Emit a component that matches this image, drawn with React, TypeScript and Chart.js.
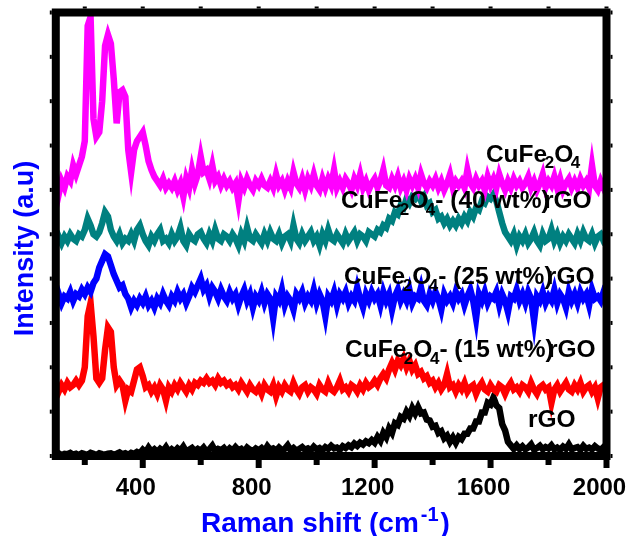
import { useEffect, useRef } from 'react';
import { Chart, registerables } from 'chart.js';

Chart.register(...registerables);

// Raman shift grid (cm-1): 100 ... 2000, sampled every 10 cm-1
const SHIFT_START = 100;
const SHIFT_STEP = 10;

// Stacked Raman intensities (a.u., vertical offsets included), one value per grid point
const CUFE2O4 = [
  61.5, 59, 62, 60.5, 63, 62, 65.5, 63.5, 65.5, 67.5,
  71, 97, 99, 76, 72, 73, 80, 92.5, 95, 93,
  85, 75, 82, 82.5, 81, 69, 64, 69, 71, 72,
  73, 70, 66.5, 64.5, 63, 62, 61, 62.5, 60.5, 61.5,
  60.5, 62, 60, 61.5, 58.5, 62.5, 60.5, 64.5, 61.5, 63.5,
  67.5, 64, 64.5, 62.5, 65.5, 62, 63, 61, 62.5, 61,
  62, 60.5, 61.5, 57.5, 62, 60.5, 62.5, 61, 60, 62,
  61, 62.5, 61, 60.5, 62, 60.5, 63.5, 61, 62, 60,
  62, 60.5, 64, 61.5, 60.5, 62.5, 60, 62.5, 61, 63.5,
  61, 60, 62.5, 60.5, 62.5, 61, 64.5, 60.5, 62, 60.5,
  62.5, 61.5, 60, 62.5, 61, 63.5, 60.5, 62, 60, 61.5,
  62.5, 60.5, 62, 64.5, 61, 60.5, 62.5, 61, 63, 60.5,
  62, 60, 62.5, 61, 62.5, 60.5, 63.5, 61.5, 60.5, 62,
  61, 62.5, 60.5, 62, 60, 61.5, 63.5, 60.5, 62, 61,
  62, 60.5, 64.5, 61.5, 60.5, 62.5, 61, 62, 60, 63,
  61, 62.5, 60.5, 63.5, 61.5, 60, 62, 60.5, 62.5, 61,
  62, 60.5, 61.5, 63, 60.5, 62, 60, 61.5, 63.5, 60.5,
  62, 61, 63, 60.5, 62.5, 60, 61.5, 62.5, 60.5, 62,
  60.5, 62.5, 61, 62, 60.5, 65.5, 61, 60, 62, 60.5,
  61.5,
];

const CUFE2O4_RGO40 = [
  48.5, 49.5, 48, 49.5, 48.5, 50, 49, 48.5, 50, 49.5,
  51, 53.5, 52, 50, 49.5, 50.5, 52.5, 55, 54, 51,
  49.5, 48.5, 50, 48, 49, 48.5, 50, 48.5, 51, 52,
  50, 48.5, 47.5, 49.5, 48.5, 50, 51, 48.5, 49, 48,
  50, 48.5, 49.5, 51.5, 48.5, 47.5, 50, 49, 48.5, 50,
  50.5, 49, 48, 50, 48.5, 51, 49, 48.5, 50, 49.5,
  48.5, 50, 49, 47.5, 50, 48.5, 51.5, 49, 48.5, 50,
  49, 48, 50, 48.5, 50.5, 49, 48.5, 50, 48, 49.5,
  50, 48.5, 52, 49, 48, 50, 48.5, 49.5, 50.5, 48.5,
  49.5, 47.5, 50, 48.5, 51, 49, 48.5, 50, 49, 48,
  50, 48.5, 49.5, 50.5, 48.5, 50, 49.5, 48.5, 50.5, 50,
  49.5, 51, 50.5, 52, 51.5, 53.5, 53, 55, 54.5, 56.5,
  56, 58, 57, 58.5, 58, 59, 57.5, 58.5, 56.5, 57,
  55, 55.5, 53.5, 54, 52.5, 53.5, 52, 53, 52, 53.5,
  52.5, 54, 53, 55, 54, 56, 55.5, 57.5, 57, 58.5,
  58, 59, 57.5, 55, 52.5, 50.5, 49.5, 48.5, 50, 47.5,
  49.5, 48.5, 50, 48, 49, 50.5, 48.5, 47.5, 50, 48.5,
  49, 51, 48.5, 50, 48, 49.5, 48.5, 50, 49, 48,
  50, 48.5, 50.5, 49, 48.5, 50, 48, 49.5, 50, 48.5,
  49,
];

const CUFE2O4_RGO25 = [
  35, 36.5, 34.5, 36, 35.5, 37, 35, 36.5, 36, 37.5,
  36.5, 38, 37, 39, 40, 42.5, 44, 45.5, 45, 43,
  41, 39.5, 38, 38.5, 36.5, 35.5, 33.5, 35, 34, 35.5,
  34.5, 36, 34, 35, 33.5, 35.5, 34.5, 36.5, 35, 34,
  36, 35, 37, 35.5, 36.5, 34.5, 36, 38, 37, 38.5,
  40, 37.5, 38.5, 36, 38, 37, 35.5, 37.5, 36, 35,
  37, 35.5, 36.5, 34, 36, 37.5, 35, 36.5, 33.5, 36,
  35, 37, 34.5, 36.5, 35.5, 31, 36, 35, 37.5, 34,
  36, 35, 33, 36.5, 35.5, 37, 34.5, 36, 35, 37.5,
  34.5, 36.5, 35, 31.5, 36, 35, 37, 34, 36.5, 35.5,
  37, 34.5, 36, 35, 38, 35.5, 33.5, 36.5, 35, 37,
  35.5, 36.5, 34, 37, 35, 36.5, 33, 36, 37.5, 35,
  36.5, 35, 37.5, 34.5, 36, 35.5, 38, 35, 34, 36.5,
  35, 37, 35.5, 33, 36.5, 35, 36, 34.5, 37, 35.5,
  36.5, 34, 36, 37.5, 35, 31, 36.5, 35, 37, 34.5,
  36, 35.5, 37, 34, 36.5, 35, 32.5, 36, 35.5, 37.5,
  35, 36.5, 34.5, 37, 35.5, 30.5, 36, 35, 37, 34.5,
  36, 35, 37.5, 34.5, 36.5, 35.5, 33.5, 37, 35, 36.5,
  34.5, 37, 35.5, 36.5, 34, 37.5, 35.5, 36, 35, 37,
  36,
];

const CUFE2O4_RGO15 = [
  15.5, 14.5, 16, 15, 16.5, 15.5, 16, 17, 16, 17,
  20, 31.5, 34.5, 27, 17.5, 16.5, 17.5, 24, 29, 28,
  20, 16, 17, 16, 12.5, 15, 14.5, 17, 19.5, 20,
  18, 15.5, 16, 14.5, 15.5, 14, 16, 15, 12.5, 15.5,
  14.5, 16, 15, 16.5, 15.5, 14.5, 16, 15, 16.5, 16,
  17, 16.5, 17.5, 16.5, 17, 16, 17.5, 16.5, 17, 16,
  16.5, 15.5, 16, 15, 16.5, 15.5, 14.5, 16, 15, 14.5,
  15.5, 14, 16, 15, 14.5, 16, 13.5, 15.5, 14.5, 16,
  15, 14.5, 16.5, 15, 14, 15.5, 16, 14.5, 15.5, 15,
  14, 16, 15, 14.5, 16.5, 15, 14.5, 15.5, 17, 15,
  15.5, 14.5, 16, 15.5, 14.5, 16, 15, 16.5, 15.5, 16,
  17, 16, 17.5, 18.5, 17.5, 19.5, 21, 19.5, 21.5, 20.5,
  22, 20, 21.5, 19.5, 20.5, 18.5, 19, 17.5, 18, 16.5,
  17, 15.5, 16.5, 15, 16, 18.5, 15.5, 16, 14.5, 16,
  15, 16.5, 14.5, 15.5, 16, 14, 15.5, 16.5, 15, 14.5,
  16, 15, 14.5, 16, 15.5, 14, 15.5, 16.5, 15, 15.5,
  14.5, 16, 15.5, 14.5, 16.5, 15, 14, 15.5, 16, 15,
  15.5, 12, 15, 16, 14.5, 15.5, 16.5, 15, 14.5, 16,
  15, 16.5, 14.5, 15.5, 16, 14.5, 15.5, 13, 15.5, 16,
  15,
];

const RGO = [
  0.3, 0.6, 0.2, 0.5, 0.4, 0.7, 0.3, 0.5, 0.2, 0.6,
  0.4, 0.3, 0.7, 0.5, 0.2, 0.6, 0.4, 0.3, 0.5, 0.6,
  0.3, 0.5, 0.8, 0.4, 0.6, 0.3, 0.7, 0.5, 0.9, 0.6,
  1.4, 0.8, 1.9, 1.0, 1.5, 0.9, 1.6, 1.1, 2.0, 0.9,
  1.5, 1.0, 1.7, 1.2, 2.1, 1.0, 1.4, 1.8, 1.1, 1.6,
  1.2, 1.9, 1.0, 1.5, 2.3, 1.1, 1.6, 1.3, 1.8, 1.0,
  1.7, 1.2, 2.0, 1.3, 1.6, 1.0, 1.9, 1.4, 1.1, 1.7,
  1.3, 1.8, 1.1, 2.2, 1.4, 1.7, 1.2, 1.9, 1.3, 1.6,
  2.4, 1.3, 1.8, 1.2, 1.6, 2.0, 1.4, 1.7, 1.3, 2.1,
  1.5, 1.8, 1.3, 2.0, 1.6, 2.3, 1.7, 1.9, 1.4, 2.2,
  1.8, 2.4, 2.0, 2.8, 2.3, 3.0, 2.6, 3.3, 2.9, 3.6,
  3.0, 4.3, 3.4, 5.2, 4.2, 6.2, 5.2, 7.4, 7.0, 8.8,
  8.4, 10.0, 9.0, 10.8, 9.6, 11.0, 9.6, 9.8, 8.2, 8.0,
  6.6, 6.8, 5.2, 5.6, 4.0, 4.6, 3.2, 4.2, 3.0, 4.3,
  3.8, 5.0, 5.0, 6.2, 6.2, 7.8, 7.8, 9.8, 9.8, 12.0,
  11.6, 13.2, 11.4, 10.8, 7.2, 5.8, 3.2, 2.4, 1.6, 2.4,
  1.6, 2.2, 1.5, 1.9, 2.6, 1.4, 1.8, 2.3, 1.5, 2.0,
  1.7, 2.4, 1.5, 1.9, 1.4, 2.1, 1.6, 2.6, 1.5, 1.8,
  2.0, 1.4, 2.3, 1.6, 1.9, 1.5, 2.2, 1.7, 1.4, 2.0,
  1.6,
];

const SERIES_NAMES = [
  'CuFe2O4',
  'CuFe2O4- (40 wt%)rGO',
  'CuFe2O4- (25 wt%)rGO',
  'CuFe2O4- (15 wt%)rGO',
  'rGO',
];
const SERIES_VALUES = [CUFE2O4, CUFE2O4_RGO40, CUFE2O4_RGO25, CUFE2O4_RGO15, RGO];
const SERIES_COLORS = ['#ff00ff', '#008080', '#0000ff', '#ff0000', '#000000'];

// Where each spectrum's name is written (Raman shift, intensity of the text baseline)
const NAME_ANCHORS: [number, number][] = [
  [1584, 66.4],
  [1084, 55.9],
  [1094, 38.8],
  [1098, 22.3],
  [1729, 6.5],
];

const X_MIN = 100;
const X_MAX = 2000;
const X_TICKS = [200, 400, 600, 800, 1000, 1200, 1400, 1600, 1800, 2000];
const X_LABELED = [400, 800, 1200, 1600, 2000];
const Y_MIN = 0;
const Y_MAX = 100;
const Y_TICKS = [0, 10, 20, 30, 40, 50, 60, 70, 80, 90, 100];

const X_TITLE = 'Raman shift (cm';
const X_TITLE_SUP = '-1';
const Y_TITLE = 'Intensity (a.u)';

const FONT = "'Liberation Sans', Arial, sans-serif";
const TITLE_BLUE = '#0000ff';

// Writes a label such as CuFe2O4, lowering digits that follow an element symbol
function drawFormula(ctx: CanvasRenderingContext2D, text: string, x: number, y: number, size: number) {
  const main = `bold ${size}px ${FONT}`;
  const sub = `bold ${Math.round(size * 0.7)}px ${FONT}`;
  let cx = x;
  let prevLetter = false;
  let inSub = false;
  for (let i = 0; i < text.length; i++) {
    const ch = text[i];
    const isDigit = ch >= '0' && ch <= '9';
    if (isDigit && (prevLetter || inSub)) {
      if (!inSub) cx -= size * 0.1;
      ctx.font = sub;
      ctx.fillText(ch, cx, y + size * 0.27);
      cx += ctx.measureText(ch).width;
      inSub = true;
    } else {
      inSub = false;
      ctx.font = main;
      ctx.fillText(ch, cx, y);
      const w = ctx.measureText(ch).width;
      const next = text[i + 1] ?? '';
      cx += ch === ')' && /[a-z]/i.test(next) ? w * 0.3 : w;
    }
    prevLetter = /[A-Za-z]/.test(ch);
  }
}

const framePlugin = {
  id: 'ramanFrame',
  afterDraw(chart: any) {
    const { ctx, chartArea: a, scales } = chart;
    const xs = scales.x;
    const ys = scales.y;
    ctx.save();

    // spectrum names
    ctx.fillStyle = '#000';
    ctx.textAlign = 'left';
    ctx.textBaseline = 'alphabetic';
    SERIES_NAMES.forEach((name, i) => {
      const [ax, ay] = NAME_ANCHORS[i];
      drawFormula(ctx, name, xs.getPixelForValue(ax), ys.getPixelForValue(ay), 24.5);
    });

    // heavy box frame
    ctx.strokeStyle = '#000';
    ctx.lineWidth = 8;
    ctx.strokeRect(a.left, a.top, a.right - a.left, a.bottom - a.top);

    // tick marks
    ctx.fillStyle = '#000';
    for (const v of X_TICKS) {
      const px = xs.getPixelForValue(v);
      const major = X_LABELED.includes(v);
      ctx.fillRect(px - 3, a.bottom + 4, 6, major ? 8 : 5);
      ctx.fillRect(px - 2, a.top - 6, 4, 2);
    }
    for (const v of Y_TICKS) {
      const py = ys.getPixelForValue(v);
      ctx.fillRect(a.left - 6, py - 2, 2, 4);
      ctx.fillRect(a.right + 4, py - 2, 2, 4);
    }

    // x title with superscript
    ctx.fillStyle = TITLE_BLUE;
    ctx.font = `bold 28px ${FONT}`;
    let cx = 201;
    const by = 531.5;
    ctx.fillText(X_TITLE, cx, by);
    cx += ctx.measureText(X_TITLE).width;
    ctx.font = `bold 20px ${FONT}`;
    ctx.fillText(X_TITLE_SUP, cx + 2, by - 11);
    cx += ctx.measureText(X_TITLE_SUP).width + 4;
    ctx.font = `bold 28px ${FONT}`;
    ctx.fillText(')', cx, by);

    // y title
    ctx.translate(32.5, 248.5);
    ctx.rotate(-Math.PI / 2);
    ctx.textAlign = 'center';
    ctx.font = `bold 27px ${FONT}`;
    ctx.fillText(Y_TITLE, 0, 0);

    ctx.restore();
  },
};

export default function App() {
  const canvasRef = useRef<HTMLCanvasElement | null>(null);

  useEffect(() => {
    const canvas = canvasRef.current;
    if (!canvas) return;

    const datasets = SERIES_VALUES.map((values, s) => ({
      label: SERIES_NAMES[s],
      data: values.map((y, i) => ({ x: SHIFT_START + i * SHIFT_STEP, y })),
      borderColor: SERIES_COLORS[s],
      backgroundColor: SERIES_COLORS[s],
      borderWidth: 6.5,
      pointRadius: 0,
      tension: 0,
      fill: false,
    }));

    const chart = new Chart(canvas, {
      type: 'line',
      data: { datasets },
      options: {
        responsive: false,
        animation: false,
        events: [],
        layout: { padding: { left: 55.8, top: 12.5, right: 23.5, bottom: 0 } },
        plugins: {
          legend: { display: false },
          tooltip: { enabled: false },
        },
        scales: {
          x: {
            type: 'linear',
            min: X_MIN,
            max: X_MAX,
            grid: { display: false, drawTicks: false },
            border: { display: false },
            afterBuildTicks: (scale: any) => {
              scale.ticks = X_TICKS.map((value) => ({ value }));
            },
            afterFit: (scale: any) => {
              scale.height = 80;
              scale.paddingLeft = 0;
              scale.paddingRight = 0;
            },
            ticks: {
              autoSkip: false,
              maxRotation: 0,
              minRotation: 0,
              padding: 18,
              labelOffset: -7,
              color: '#000',
              font: { family: FONT, size: 24, weight: 'bold' },
              callback: (v: any) => (X_LABELED.includes(Number(v)) ? String(v) : ''),
            },
          },
          y: {
            type: 'linear',
            display: false,
            min: Y_MIN,
            max: Y_MAX,
          },
        },
      },
      plugins: [framePlugin],
    } as any);

    return () => chart.destroy();
  }, []);

  return (
    <div style={{ position: 'absolute', left: 0, top: 0, width: 630, height: 536, background: '#fff' }}>
      <canvas ref={canvasRef} width={630} height={536} style={{ display: 'block' }} />
    </div>
  );
}
